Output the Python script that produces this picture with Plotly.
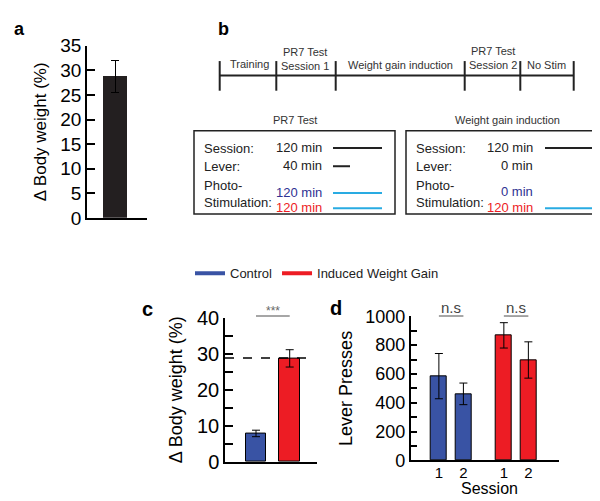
import plotly.graph_objects as go

W, H = 600, 501
def fx(p): return p / W
def fy(p): return 1 - p / H

FONT = "Liberation Sans, Arial, sans-serif"
BLUE = "#3953a4"
RED = "#ed1c24"
CYAN = "#29abe2"

# ---------------- data ----------------
# panel a
a_mean = [28.8]
a_err = [3.3]
# panel c
c_groups = ["Control", "Induced Weight Gain"]
c_mean = [7.9, 28.7]
c_err = [0.9, 2.4]
# panel d
d_sessions = ["1", "2"]
d_control = [585, 462]
d_control_err = [157, 75]
d_induced = [868, 697]
d_induced_err = [88, 126]
# panel b
stages = ["Training", "PR7 Test<br>Session 1", "Weight gain induction",
          "PR7 Test<br>Session 2", "No Stim"]

# ---------------- layout helpers (positions) ----------------
c_pos = [0, 1]
d_pos_control = [0, 1]
d_pos_induced = [2.65, 3.65]

fig = go.Figure()

# panel a
fig.add_trace(go.Bar(x=[0], y=a_mean, width=0.6, marker=dict(color="#231f20", line=dict(width=0)),
                     error_y=dict(type="data", array=a_err, color="black", thickness=1, width=4),
                     xaxis="x", yaxis="y", showlegend=False))
# panel c
fig.add_trace(go.Bar(x=c_pos, y=c_mean, width=0.61,
                     marker=dict(color=[BLUE, RED], line=dict(color="black", width=1)),
                     error_y=dict(type="data", array=c_err, color="black", thickness=1, width=4),
                     xaxis="x2", yaxis="y2", showlegend=False))
# panel d
fig.add_trace(go.Bar(x=d_pos_control, y=d_control, width=0.665,
                     marker=dict(color=BLUE, line=dict(color="black", width=1)),
                     error_y=dict(type="data", array=d_control_err, color="black", thickness=1, width=4),
                     xaxis="x3", yaxis="y3", showlegend=False))
fig.add_trace(go.Bar(x=d_pos_induced, y=d_induced, width=0.665,
                     marker=dict(color=RED, line=dict(color="black", width=1)),
                     error_y=dict(type="data", array=d_induced_err, color="black", thickness=1, width=4),
                     xaxis="x3", yaxis="y3", showlegend=False))
# legend entries
for name, col in zip(c_groups, [BLUE, RED]):
    fig.add_trace(go.Scatter(x=[None], y=[None], mode="lines", name=name,
                             line=dict(color=col, width=4), xaxis="x", yaxis="y"))

axis_common = dict(showline=True, linecolor="black", linewidth=1.5, showgrid=False,
                   zeroline=False)

def tf(size):
    return dict(family=FONT, color="black", size=size)

fig.update_layout(
    width=W, height=H, margin=dict(l=0, r=0, t=0, b=0),
    paper_bgcolor="white", plot_bgcolor="white",
    font=dict(family=FONT, color="black"),
    bargap=0,
    xaxis=dict(domain=[fx(79), fx(139)], range=[-0.7, 0.8], anchor="y",
               showticklabels=False, ticks="", **axis_common),
    yaxis=dict(domain=[fy(208), fy(28)], range=[0, 35], dtick=5, anchor="x",
               ticks="inside", ticklen=8, tickcolor="black", tickwidth=1.5, tickfont=tf(19),
               title=dict(text="Δ Body weight (%)", font=dict(size=17), standoff=9),
               **axis_common),
    xaxis2=dict(domain=[fx(217), fx(309)], range=[-0.92, 1.81], anchor="y2",
                showticklabels=False, ticks="", **axis_common),
    yaxis2=dict(domain=[fy(463.3), fy(312.3)], range=[0, 40], dtick=10, anchor="x2",
                ticks="inside", ticklen=8, tickcolor="black", tickwidth=1.5, tickfont=tf(20),
                minor=dict(dtick=5, ticks="inside", ticklen=8, tickcolor="black", tickwidth=1.5),
                title=dict(text="Δ Body weight (%)", font=dict(size=18), standoff=10),
                **axis_common),
    xaxis3=dict(domain=[fx(402.7), fx(551)], range=[-1.15, 4.9], anchor="y3",
                tickvals=d_pos_control + d_pos_induced, ticktext=d_sessions + d_sessions,
                ticks="", tickfont=tf(15), ticklabelstandoff=-2,
                **axis_common),
    yaxis3=dict(domain=[fy(461.7), fy(311)], range=[0, 1000], dtick=200, anchor="x3",
                ticks="inside", ticklen=7, tickcolor="black", tickwidth=1.5, tickfont=tf(18),
                minor=dict(dtick=100, ticks="inside", ticklen=7, tickcolor="black", tickwidth=1.5),
                title=dict(text="Lever Presses", font=dict(size=18), standoff=8),
                **axis_common),
    legend=dict(orientation="h", x=fx(182), y=fy(266), xanchor="left", yanchor="middle",
                font=dict(family=FONT, size=13, color="#222"), bgcolor="rgba(0,0,0,0)"),
)

shapes = []
ann = []

# x-axis title of panel d (placed as annotation so it stays inside the page)
ann.append(dict(text="Session", xref="x3 domain", yref="paper", x=0.53, y=0,
                showarrow=False, xanchor="center", yanchor="bottom", borderpad=0,
                font=dict(size=16, color="black")))

# dashed reference line in c (panel a mean)
shapes.append(dict(type="line", xref="x2 domain", yref="y2", x0=0, x1=0.975,
                   y0=a_mean[0], y1=a_mean[0], line=dict(color="black", width=1.5, dash="dash")))
# significance
shapes.append(dict(type="line", xref="x2", yref="paper", x0=c_pos[0], x1=c_pos[1],
                   y0=fy(310.7), y1=fy(310.7), line=dict(color="#888", width=1.5)))
ann.append(dict(text="***", xref="x2", yref="paper", x=0.5, y=fy(305), showarrow=False,
                font=dict(size=12, color="#666"), xanchor="center", yanchor="middle"))
for pos in (d_pos_control, d_pos_induced):
    shapes.append(dict(type="line", xref="x3", yref="paper", x0=pos[0], x1=pos[1],
                       y0=fy(310.7), y1=fy(310.7), line=dict(color="#888", width=1.5)))
    ann.append(dict(text="n.s", xref="x3", yref="paper", x=(pos[0] + pos[1]) / 2, y=fy(302),
                    showarrow=False, font=dict(size=15, color="#444"),
                    xanchor="center", yanchor="middle"))

# panel labels
for lab, px, py, sz in [("a", 4, 10, 18), ("b", 208, 10, 18), ("c", 132, 303, 20), ("d", 320, 302, 20)]:
    ann.append(dict(text=f"<b>{lab}</b>", xref="paper", yref="paper", x=fx(px), y=fy(py),
                    showarrow=False, xanchor="left", yanchor="middle",
                    font=dict(size=sz, color="black")))

# panel b timeline
bounds = [211.7, 268.3, 327.7, 456.7, 512.3, 565.7]
shapes.append(dict(type="line", xref="paper", yref="paper", x0=fx(bounds[0]), x1=fx(bounds[-1]),
                   y0=fy(59), y1=fy(59), line=dict(color="#222", width=2)))
for b in bounds:
    shapes.append(dict(type="line", xref="paper", yref="paper", x0=fx(b), x1=fx(b),
                       y0=fy(44), y1=fy(75), line=dict(color="#222", width=2)))
stage_x = [241.7, 297, 392, 485, 538.5]
stage_y = [47, 42, 48, 41, 48]
for s, sx, sy in zip(stages, stage_x, stage_y):
    ann.append(dict(text=s, xref="paper", yref="paper", x=fx(sx), y=fy(sy), showarrow=False,
                    xanchor="center", yanchor="middle", font=dict(size=11, color="#333")))

# boxes
for x0, x1, title, tx in [(186, 387, "PR7 Test", 287), (398, 599, "Weight gain induction", 499)]:
    shapes.append(dict(type="rect", xref="paper", yref="paper", x0=fx(x0), x1=fx(x1),
                       y0=fy(204), y1=fy(117), line=dict(color="#222", width=1.5)))
    ann.append(dict(text=title, xref="paper", yref="paper", x=fx(tx), y=fy(106), showarrow=False,
                    xanchor="center", yanchor="middle", font=dict(size=11, color="#333")))

box_rows = [
    (194, 316, 325, [("Session:", 135, "120 min", "#222", 134, 374),
                     ("Lever:", 154, "40 min", "#222", 153, 342),
                     (None, None, "120 min", "#2e3192", 181, 374),
                     (None, None, "120 min", RED, 197, 374)]),
    (406, 527, 537, [("Session:", 135, "120 min", "#222", 134, 586),
                     ("Lever:", 154, "0 min", "#222", 153, None),
                     (None, None, "0 min", "#2e3192", 180, None),
                     (None, None, "120 min", RED, 197, 586)]),
]
for lx, vx, l0, rows in box_rows:
    for lab, ly, val, vcol, vy, lend in rows:
        if lab:
            ann.append(dict(text=lab, xref="paper", yref="paper", x=fx(lx), y=fy(ly), showarrow=False,
                            xanchor="left", yanchor="middle", font=dict(size=13, color="#222")))
        ann.append(dict(text=val, xref="paper", yref="paper", x=fx(vx), y=fy(vy), showarrow=False,
                        xanchor="right", yanchor="middle", font=dict(size=13, color=vcol)))
        if lend:
            lc = "#222" if vcol == "#222" else CYAN
            shapes.append(dict(type="line", xref="paper", yref="paper", x0=fx(l0), x1=fx(lend),
                               y0=fy(vy + 1), y1=fy(vy + 1), line=dict(color=lc, width=2)))
    ann.append(dict(text="Photo-<br>Stimulation:", xref="paper", yref="paper", x=fx(lx), y=fy(183),
                    showarrow=False, xanchor="left", yanchor="middle", align="left",
                    font=dict(size=13, color="#222")))

fig.update_layout(shapes=shapes, annotations=ann)
fig.write_html("out.html")
